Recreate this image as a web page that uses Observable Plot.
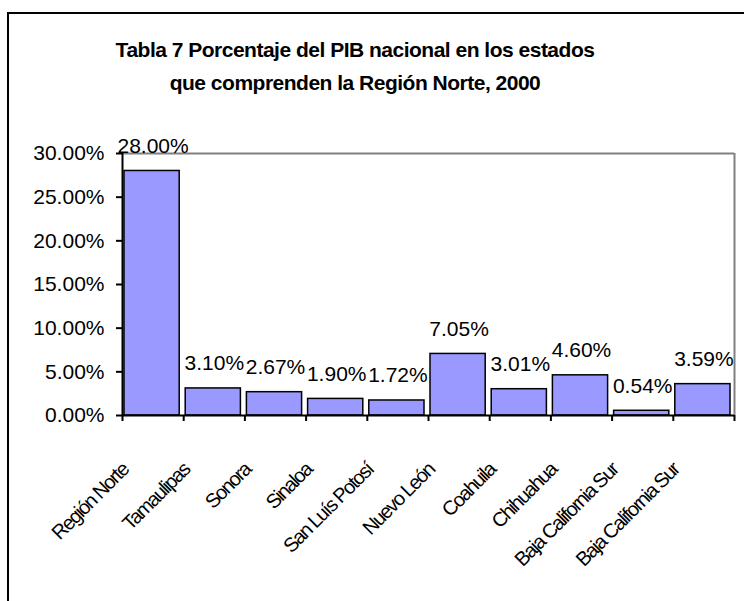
<!DOCTYPE html>
<html>
<head>
<meta charset="utf-8">
<script src="https://cdn.jsdelivr.net/npm/d3@7"></script>
<script src="https://cdn.jsdelivr.net/npm/@observablehq/plot@0.6"></script>
<style>
html, body { margin: 0; padding: 0; background: #fff; overflow: hidden; }
#wrap { position: relative; width: 744px; height: 601px; overflow: hidden; background: #fff; }
#border { position: absolute; left: 7px; top: 12px; width: 800px; height: 700px; border: 2px solid #000; }
#chart { position: absolute; left: 0; top: 0; }
#title { position: absolute; left: 0; top: 33px; width: 710px; text-align: center;
  font: bold 21px "Liberation Sans", Arial, sans-serif; letter-spacing: -0.5px; line-height: 33px; color: #000; }
</style>
</head>
<body>
<div id="wrap">
  <div id="border"></div>
  <div id="chart"></div>
  <div id="title">Tabla 7 Porcentaje del PIB nacional en los estados<br>que comprenden la Región Norte, 2000</div>
</div>
<script>
const categories = ["Región Norte", "Tamaulipas", "Sonora", "Sinaloa", "San Luís Potosí",
  "Nuevo León", "Coahuila", "Chihuahua", "Baja California Sur", "Baja California Sur"];
const values = [28.00, 3.10, 2.67, 1.90, 1.72, 7.05, 3.01, 4.60, 0.54, 3.59];
const yTicks = [0, 5, 10, 15, 20, 25, 30];

const data = categories.map((name, i) => ({i, name, v: values[i] / 100}));
const boundaries = d3.range(categories.length + 1);
const fmt = d3.format(".2%");

const chart = Plot.plot({
  width: 744,
  height: 601,
  marginLeft: 122,
  marginRight: 10,
  marginTop: 153,
  marginBottom: 186,
  style: {background: "transparent", fontFamily: '"Liberation Sans", Arial, sans-serif', fontSize: "21px", color: "#000", overflow: "visible"},
  x: {type: "linear", domain: [0, categories.length], axis: null},
  y: {domain: [0, yTicks[yTicks.length - 1] / 100], axis: null},
  marks: [
    Plot.ruleY([yTicks[yTicks.length - 1] / 100], {stroke: "#808080", strokeWidth: 2}),
    Plot.ruleX([categories.length], {stroke: "#808080", strokeWidth: 2}),
    Plot.rectY(data, {x1: "i", x2: d => d.i + 1, y: "v", fill: "#9999FF", stroke: "#000", strokeWidth: 1.5, insetLeft: 2, insetRight: 4}),
    Plot.ruleX([0], {stroke: "#000", strokeWidth: 2}),
    Plot.ruleY([0], {stroke: "#000", strokeWidth: 2}),
    Plot.axisY({ticks: yTicks.map(d => d / 100), tickFormat: fmt, label: null, tickSize: 6, tickPadding: 12, stroke: "#000", strokeWidth: 2, strokeOpacity: 1, fontSize: 21, fill: "#000"}),
    Plot.axisX({ticks: boundaries, tickFormat: () => "", label: null, tickSize: 6, stroke: "#000", strokeWidth: 2, strokeOpacity: 1}),
    Plot.text(data, {x: d => d.i + 0.5, y: "v", text: d => d3.format(".2f")(d.v * 100) + "%", lineAnchor: "bottom", dy: -18, fontSize: 21, fill: "#000"}),
    Plot.text(data, {x: d => d.i + 0.5, frameAnchor: "bottom", text: "name", rotate: -45, textAnchor: "end", lineAnchor: "middle", dx: -28, dy: 51, fontSize: 20, fill: "#000"})
  ]
});
d3.select(chart).selectAll("text")
  .filter(function() { return (this.getAttribute("transform") || "").includes("rotate(-45)"); })
  .style("letter-spacing", "-1.6px");
document.getElementById("chart").appendChild(chart);
</script>
</body>
</html>
